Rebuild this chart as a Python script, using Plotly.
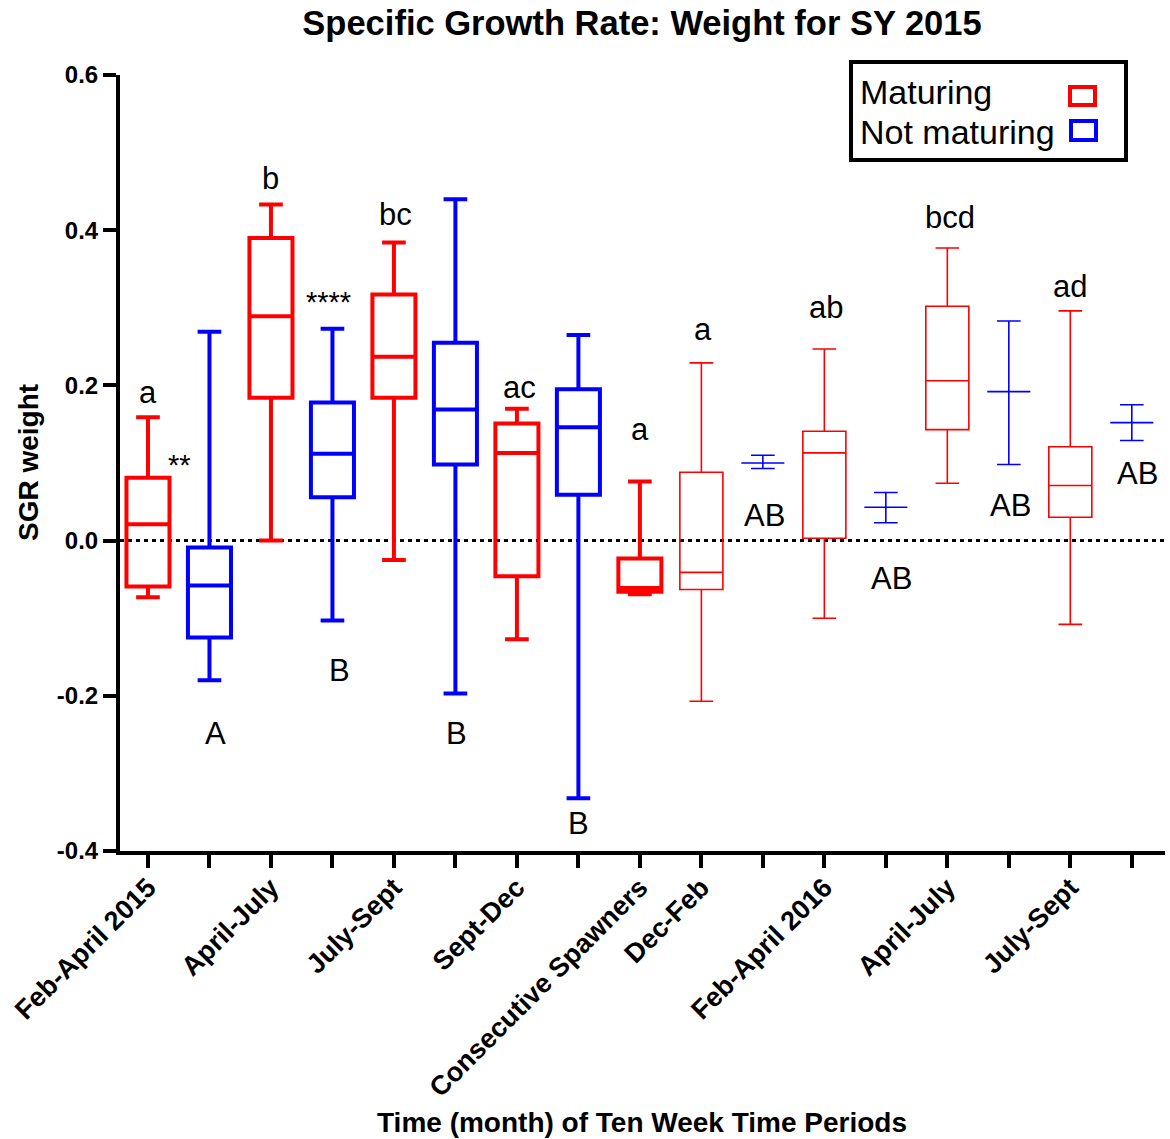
import plotly.graph_objects as go

# ---- Data: SGR weight summaries (whisker low, Q1, median, Q3, whisker high) ----
# 2015 ten-week periods (plus consecutive spawners)
mat15_pos = [1, 3, 5, 7, 9]
mat15_lo = [-0.073, 0.000, -0.025, -0.127, -0.069]
mat15_q1 = [-0.059, 0.184, 0.184, -0.046, -0.066]
mat15_med = [0.021, 0.289, 0.237, 0.113, -0.061]
mat15_q3 = [0.081, 0.390, 0.317, 0.151, -0.023]
mat15_hi = [0.159, 0.433, 0.384, 0.170, 0.076]

not15_pos = [2, 4, 6, 8]
not15_lo = [-0.180, -0.103, -0.197, -0.332]
not15_q1 = [-0.125, 0.056, 0.098, 0.059]
not15_med = [-0.058, 0.112, 0.169, 0.146]
not15_q3 = [-0.009, 0.178, 0.255, 0.195]
not15_hi = [0.269, 0.273, 0.440, 0.265]

# 2015-2016 periods
mat16_pos = [10, 12, 14, 16]
mat16_lo = [-0.207, -0.100, 0.074, -0.108]
mat16_q1 = [-0.063, 0.003, 0.143, 0.030]
mat16_med = [-0.041, 0.113, 0.206, 0.071]
mat16_q3 = [0.088, 0.141, 0.302, 0.121]
mat16_hi = [0.229, 0.247, 0.377, 0.296]

not16_pos = [11, 13, 15, 17]
not16_lo = [0.093, 0.023, 0.098, 0.129]
not16_med = [0.100, 0.043, 0.192, 0.152]
not16_hi = [0.110, 0.062, 0.283, 0.175]

tick_pos = list(range(1, 18))
tick_text = ["Feb-April 2015", "", "April-July", "", "July-Sept", "",
             "Sept-Dec", "", "Consecutive Spawners", "Dec-Feb", "",
             "Feb-April 2016", "", "April-July", "", "July-Sept", ""]

# Significance letters / stars and where they sit (x position, y value)
sig_text = ["a", "**", "A", "b", "****", "B", "bc", "B", "ac", "B", "a",
            "a", "AB", "ab", "AB", "bcd", "AB", "ad", "AB"]
sig_x = [1.0, 1.52, 2.09, 3.0, 3.94, 4.11, 5.03, 6.02, 7.05, 8.0, 9.0,
         10.03, 11.02, 12.02, 13.1, 14.05, 15.03, 16.0, 17.1]
sig_y = [0.191, 0.098, -0.249, 0.466, 0.307, -0.168, 0.420, -0.248, 0.197,
         -0.364, 0.143, 0.272, 0.032, 0.300, -0.049, 0.416, 0.045, 0.328, 0.086]

RED = "#FF0000"
BLUE = "#0000FF"
FONT = "Liberation Sans, Arial, sans-serif"

# Plot-area geometry in pixels (used for the hand-drawn legend and titles)
W, H = 1170, 1139
L, R, T, B = 120, 1165, 75, 851


def px(x):
    return (x - L) / (R - L)


def py(y):
    return (B - y) / (B - T)


fig = go.Figure()


def add_box(pos, lo, q1, med, q3, hi, color, lw):
    fig.add_trace(go.Box(
        x=pos, lowerfence=lo, q1=q1, median=med, q3=q3, upperfence=hi,
        orientation="v", width=0.7, whiskerwidth=0.55,
        line=dict(color=color, width=lw), fillcolor="rgba(0,0,0,0)",
        boxpoints=False, showlegend=False, hoverinfo="skip",
    ))


add_box(mat15_pos, mat15_lo, mat15_q1, mat15_med, mat15_q3, mat15_hi, RED, 4)
add_box(not15_pos, not15_lo, not15_q1, not15_med, not15_q3, not15_hi, BLUE, 4)
add_box(mat16_pos, mat16_lo, mat16_q1, mat16_med, mat16_q3, mat16_hi, RED, 1.6)
add_box(not16_pos, not16_lo, not16_med, not16_med, not16_med, not16_hi, BLUE, 1.6)

# Zero reference line
fig.add_shape(type="line", xref="paper", x0=0, x1=1, yref="y", y0=0, y1=0,
              line=dict(color="black", width=3, dash="4px,4px"), layer="below")

# Significance annotations
for t, x, y in zip(sig_text, sig_x, sig_y):
    fig.add_annotation(x=x, y=y, xref="x", yref="y", text=t, showarrow=False,
                       font=dict(family=FONT, size=31 if "*" not in t else 29,
                                 color="black"),
                       xanchor="center", yanchor="middle")

# Legend frame, labels and swatches
fig.add_shape(type="rect", xref="paper", yref="paper",
              x0=px(851), x1=px(1126), y0=py(160), y1=py(62),
              line=dict(color="black", width=4), fillcolor="white", layer="above")
fig.add_shape(type="rect", xref="paper", yref="paper",
              x0=px(1070), x1=px(1095), y0=py(105), y1=py(87),
              line=dict(color=RED, width=4), layer="above")
fig.add_shape(type="rect", xref="paper", yref="paper",
              x0=px(1071), x1=px(1096), y0=py(140), y1=py(121),
              line=dict(color=BLUE, width=4), layer="above")
for label, yc in [("Maturing", 92), ("Not maturing", 132)]:
    fig.add_annotation(xref="paper", yref="paper", x=px(858), y=py(yc),
                       text=label, showarrow=False, xanchor="left",
                       yanchor="middle",
                       font=dict(family=FONT, size=34, color="black"))

# Axis titles
fig.add_annotation(xref="paper", yref="paper", x=px(642), y=py(1122),
                   text="<b>Time (month) of Ten Week Time Periods</b>",
                   showarrow=False, xanchor="center", yanchor="middle",
                   font=dict(family=FONT, size=28, color="black"))
fig.add_annotation(xref="paper", yref="paper", x=px(28), y=py(463),
                   text="<b>SGR weight</b>", textangle=-90,
                   showarrow=False, xanchor="center", yanchor="middle",
                   font=dict(family=FONT, size=28, color="black"))

fig.update_layout(
    width=W, height=H,
    margin=dict(l=L, r=W - R, t=T, b=H - B),
    paper_bgcolor="white", plot_bgcolor="white",
    title=dict(text="<b>Specific Growth Rate: Weight for SY 2015</b>",
               x=px(642), xref="paper", xanchor="center",
               y=1 - 23 / H, yref="container", yanchor="middle",
               font=dict(family=FONT, size=34.5, color="black")),
    font=dict(family=FONT, color="black"),
    boxmode="overlay",
)

fig.update_xaxes(
    range=[0.545, 17.54], tickmode="array", tickvals=tick_pos, ticktext=tick_text,
    tickangle=-45, ticks="outside", ticklen=13, tickwidth=4, tickcolor="black",
    ticklabelstandoff=-7,
    showline=True, linewidth=4, linecolor="black", showgrid=False,
    zeroline=False, tickfont=dict(family=FONT, size=27, color="black",
                                  weight="bold"),
)
fig.update_yaxes(
    range=[-0.4, 0.6], tickmode="array",
    tickvals=[-0.4, -0.2, 0.0, 0.2, 0.4, 0.6],
    ticktext=["-0.4", "-0.2", "0.0", "0.2", "0.4", "0.6"],
    ticks="outside", ticklen=13, tickwidth=4, tickcolor="black",
    showline=True, linewidth=4, linecolor="black", showgrid=False,
    zeroline=False, tickfont=dict(family=FONT, size=24, color="black",
                                  weight="bold"),
)

fig.write_html("out.html")
